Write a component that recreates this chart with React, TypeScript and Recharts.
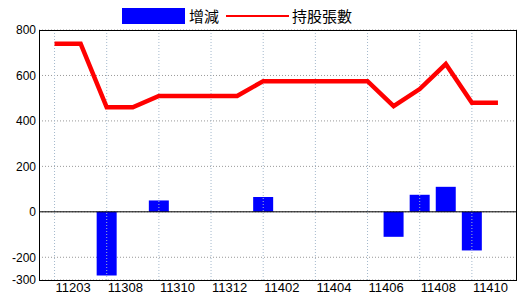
import React from "react";
import {
  ComposedChart,
  Bar,
  Line,
  XAxis,
  YAxis,
  CartesianGrid,
  ReferenceLine,
} from "recharts";

const months = [
  "11203", "11307", "11308", "11309", "11310", "11311", "11312", "11401", "11402",
  "11403", "11404", "11405", "11406", "11407", "11408", "11409", "11410", "11411",
];
const change = [0, 0, -280, 0, 50, 0, 0, 0, 65, 0, 0, 0, 0, -110, 75, 110, -170, 0];
const holders = [740, 740, 460, 460, 510, 510, 510, 510, 575, 575, 575, 575, 575, 465, 540, 650, 480, 480];
const yTicks = [-300, -200, 0, 200, 400, 600, 800];

const data = months.map((m, i) => ({
  month: m,
  diff: change[i],
  total: holders[i],
}));

const FONT = "'Liberation Sans Narrow', 'Liberation Sans', Arial, sans-serif";
const CJK = "'Noto Sans CJK TC', 'Noto Sans CJK SC', sans-serif";

function XTick({ x, y, payload }: any) {
  return (
    <text x={x + 1} y={y} dy="0.71em" textAnchor="start" fontSize={13} fontFamily={FONT} fill="#000">
      {payload.value}
    </text>
  );
}

export default function App() {
  return (
    <div style={{ position: "absolute", left: 0, top: 0, width: 520, height: 300, background: "#fff" }}>
      <div style={{ position: "absolute", left: 122, top: 8, width: 63, height: 16, background: "#0000ff" }} />
      <div style={{ position: "absolute", left: 189, top: 5, fontSize: 15, lineHeight: "22px", fontFamily: CJK }}>增減</div>
      <div style={{ position: "absolute", left: 226, top: 15, width: 63, height: 1.5, background: "#ff0000" }} />
      <div style={{ position: "absolute", left: 292, top: 5, fontSize: 15, lineHeight: "22px", fontFamily: CJK }}>持股張數</div>
      <ComposedChart
        width={520}
        height={300}
        data={data}
        margin={{ top: 30, right: 3, bottom: 0, left: 0 }}
      >
        <CartesianGrid vertical={false} stroke="#999" strokeDasharray="1 2" />
        {months.map((m, i) =>
          i % 2 === 0 ? (
            <ReferenceLine key={m} x={m} stroke="#a4b8cc" strokeDasharray="1 2" />
          ) : null
        )}
        <ReferenceLine y={0} stroke="#000" strokeWidth={1} />
        <XAxis
          dataKey="month"
          interval={1}
          padding={{ left: 2.5, right: 6 }}
          height={20}
          tickSize={3}
          tickMargin={0}
          tickLine={false}
          axisLine={false}
          tick={<XTick />}
        />
        <YAxis
          domain={[-300, 800]}
          ticks={yTicks}
          allowDataOverflow
          width={39}
          tickSize={3}
          tickMargin={0}
          tickLine={false}
          axisLine={false}
          tick={{ fontSize: 12, fontFamily: FONT, fill: "#000" }}
        />
        <Bar dataKey="diff" fill="#0000ff" barSize={20} isAnimationActive={false} />
        <Line
          type="linear"
          dataKey="total"
          stroke="#ff0000"
          strokeWidth={4.5}
          dot={false}
          activeDot={false}
          isAnimationActive={false}
        />
      </ComposedChart>
      {/* plot frame */}
      <div
        style={{
          position: "absolute",
          left: 39,
          top: 30,
          width: 478,
          height: 251,
          boxSizing: "border-box",
          border: "1px solid #000",
          pointerEvents: "none",
        }}
      />
    </div>
  );
}
